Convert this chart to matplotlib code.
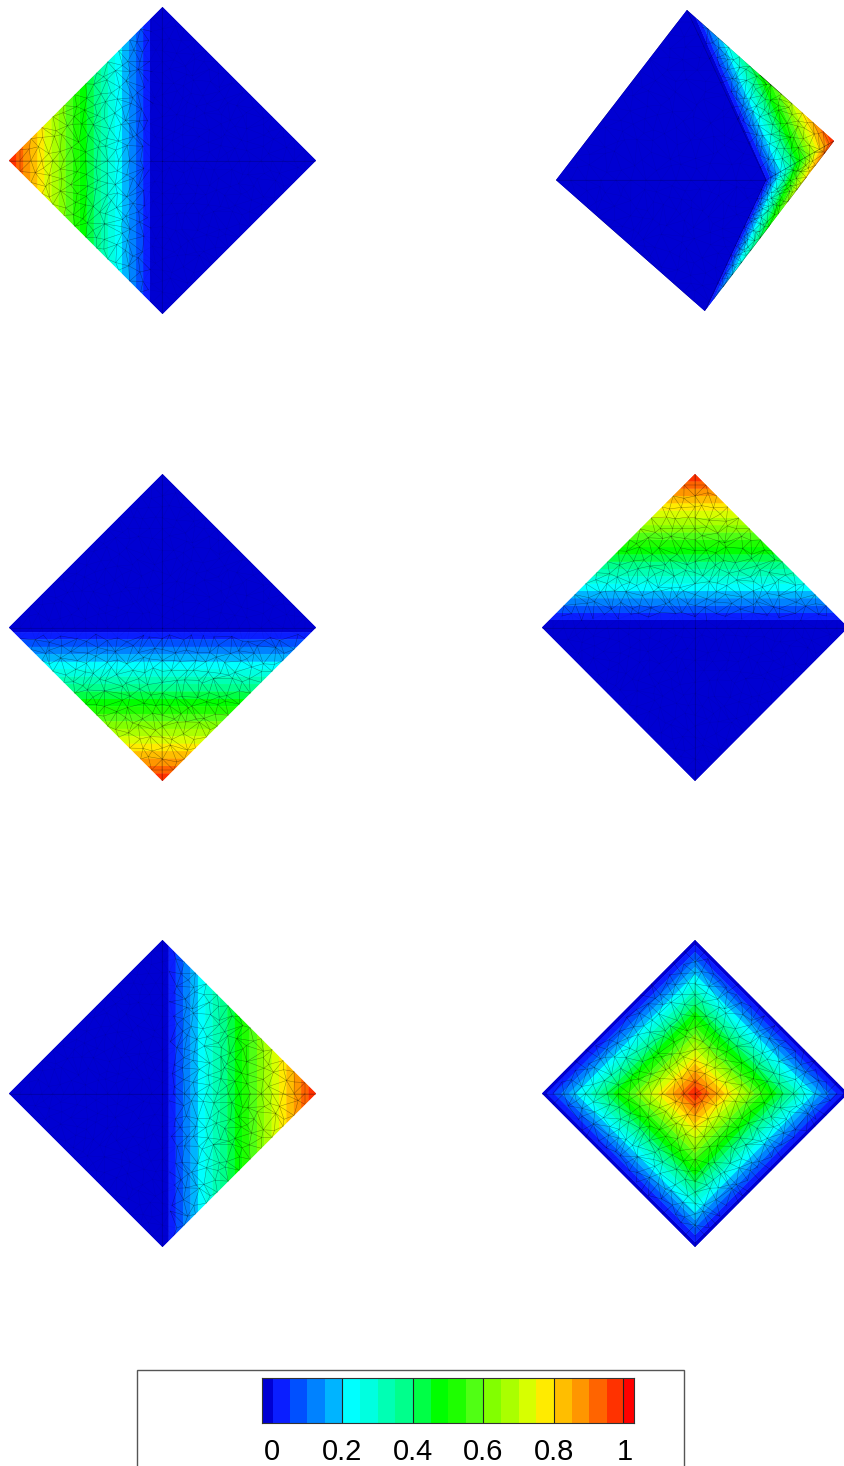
import numpy as np
import matplotlib
matplotlib.use('Agg')
import matplotlib.pyplot as plt
import matplotlib.tri as tri
from matplotlib.collections import LineCollection
from matplotlib.colors import ListedColormap, BoundaryNorm
from matplotlib.patches import Rectangle

W, H = 845, 1466

# contour levels and band colours
levels = [-0.2, 0.002, 0.05, 0.1, 0.15, 0.2, 0.25, 0.3, 0.35, 0.4, 0.45, 0.5,
          0.55, 0.6, 0.65, 0.7, 0.75, 0.8, 0.85, 0.9, 0.95, 0.995, 1.03]
band_colors = ['#0000d2', '#0a1eff', '#0050ff', '#0082ff', '#00b4ff', '#00ffff',
               '#00ffe0', '#00ffb4', '#00ff8c', '#00ff46', '#00ff00', '#1eff00',
               '#50ff14', '#82ff00', '#aaff00', '#d7ff00', '#ffeb00', '#ffbe00',
               '#ff9600', '#ff6400', '#ff3200', '#ff0000']
tick_vals = [0, 0.2, 0.4, 0.6, 0.8, 1]
tick_labels = ['0', '0.2', '0.4', '0.6', '0.8', '1']

# corner nodes of each view: left, top, right, bottom, inner point
square_x = [-1, 0, 1, 0, 0]
square_y = [0, 1, 0, -1, 0]
skew_x = [-1, -0.058, 1, 0.07, 0.51]
skew_y = [-0.13, 1, 0.13, -1, -0.13]
faces = [[0, 1, 4], [1, 2, 4], [2, 3, 4], [3, 0, 4]]

# values at the nodes, slightly below zero where the blue area reaches past the centre lines
val_left = [1, -0.087, -0.087, -0.087, -0.087]
val_skew = [-0.1, -0.06, 1, -0.02, -0.01]
val_bottom = [-0.03, -0.03, -0.03, 1, -0.03]
val_top = [-0.05, 1, -0.05, -0.05, -0.05]
val_right = [-0.04, -0.04, 1, -0.04, -0.04]
val_center = [-0.03, -0.03, -0.03, -0.03, 1]

# (x0, x1, y0, y1 in pixels), nodes x, nodes y, node values
panels = [
    ((9, 316, 7, 314), square_x, square_y, val_left),
    ((556, 834, 10, 311), skew_x, skew_y, val_skew),
    ((9, 316, 474, 781), square_x, square_y, val_bottom),
    ((542, 848, 474, 781), square_x, square_y, val_top),
    ((9, 316, 940, 1247), square_x, square_y, val_right),
    ((542, 848, 940, 1247), square_x, square_y, val_center),
]

# hand picked offsets to make the mesh look unstructured
wobble = [0.21, -0.33, 0.08, 0.37, -0.14, -0.28, 0.31, -0.05, 0.17, -0.39, 0.26,
          0.02, -0.22, 0.35, -0.31, 0.12, -0.09, 0.29, -0.36, 0.19, 0.05, -0.18, 0.33]


def pixel_axes(fig, x0, x1, y0, y1):
    return fig.add_axes([x0 / W, 1 - y1 / H, (x1 - x0) / W, (y1 - y0) / H])


def mesh_points(nx, ny, n=14):
    pts = []
    k = 0
    for f in faces:
        a, b, c = f[0], f[1], f[2]
        for i in range(n + 1):
            for j in range(n + 1 - i):
                u, v = float(i), float(j)
                if i > 0 and j > 0 and i + j < n:
                    u += wobble[k % len(wobble)]
                    v += wobble[(k * 5 + 3) % len(wobble)]
                    k += 1
                px = nx[c] + u / n * (nx[a] - nx[c]) + v / n * (nx[b] - nx[c])
                py = ny[c] + u / n * (ny[a] - ny[c]) + v / n * (ny[b] - ny[c])
                pts.append((round(px, 6), round(py, 6)))
    pts = np.unique(np.array(pts), axis=0)
    return pts[:, 0], pts[:, 1]


plt.rcParams['font.family'] = ['Liberation Sans', 'DejaVu Sans']
fig = plt.figure(figsize=(W / 100, H / 100), dpi=100)
cmap = ListedColormap(band_colors)
norm = BoundaryNorm(levels, cmap.N)

for box, nx, ny, vals in panels:
    ax = pixel_axes(fig, *box)
    coarse = tri.Triangulation(nx, ny, faces)
    # drawn twice so the antialiased bands leave no pale seams
    for _ in range(2):
        ax.tricontourf(coarse, vals, levels=levels, cmap=cmap, norm=norm, antialiased=True)

    mx, my = mesh_points(nx, ny)
    mesh = tri.Triangulation(mx, my)
    interp = tri.LinearTriInterpolator(coarse, np.array(vals, dtype=float))

    # only inner edges, the outline of the shape has no line
    segs_on, segs_off = [], []
    for t, nb in zip(mesh.triangles, mesh.neighbors):
        for e in range(3):
            p, q = t[e], t[(e + 1) % 3]
            if nb[e] == -1 or p > q:
                continue
            mid = np.ma.filled(interp((mx[p] + mx[q]) / 2, (my[p] + my[q]) / 2), 0)
            seg = [(mx[p], my[p]), (mx[q], my[q])]
            if mid > 0.03:
                segs_on.append(seg)
            else:
                segs_off.append(seg)
    ax.add_collection(LineCollection(segs_on, colors='black', linewidths=0.35, alpha=0.42))
    ax.add_collection(LineCollection(segs_off, colors='black', linewidths=0.3, alpha=0.08))
    for k in range(4):
        ax.plot([nx[k], nx[4]], [ny[k], ny[4]], color='black', lw=0.5, alpha=0.22)
    ax.set_xlim(-1, 1)
    ax.set_ylim(-1, 1)
    ax.axis('off')

# legend frame, runs off the bottom of the image
fig.add_artist(Rectangle((136.5 / W, 1 - 1480 / H), 547.5 / W, 110 / H, transform=fig.transFigure,
                         fill=False, edgecolor='#555555', lw=1))

cax = pixel_axes(fig, 262, 634, 1378, 1423)
cax.pcolormesh(levels, [0, 1], [levels[:-1]], cmap=cmap, norm=norm)
cax.set_xlim(-0.028, 1.027)
for v in tick_vals[1:-1] + [0.995]:
    cax.axvline(v, color='#222222', lw=0.8)
cax.set_yticks([])
cax.set_xticks(tick_vals)
cax.set_xticklabels(tick_labels, fontsize=21)
cax.tick_params(axis='x', length=0, pad=11)
for s in cax.spines.values():
    s.set_linewidth(0.8)
    s.set_color('#333333')

fig.savefig('out.png', dpi=100)
